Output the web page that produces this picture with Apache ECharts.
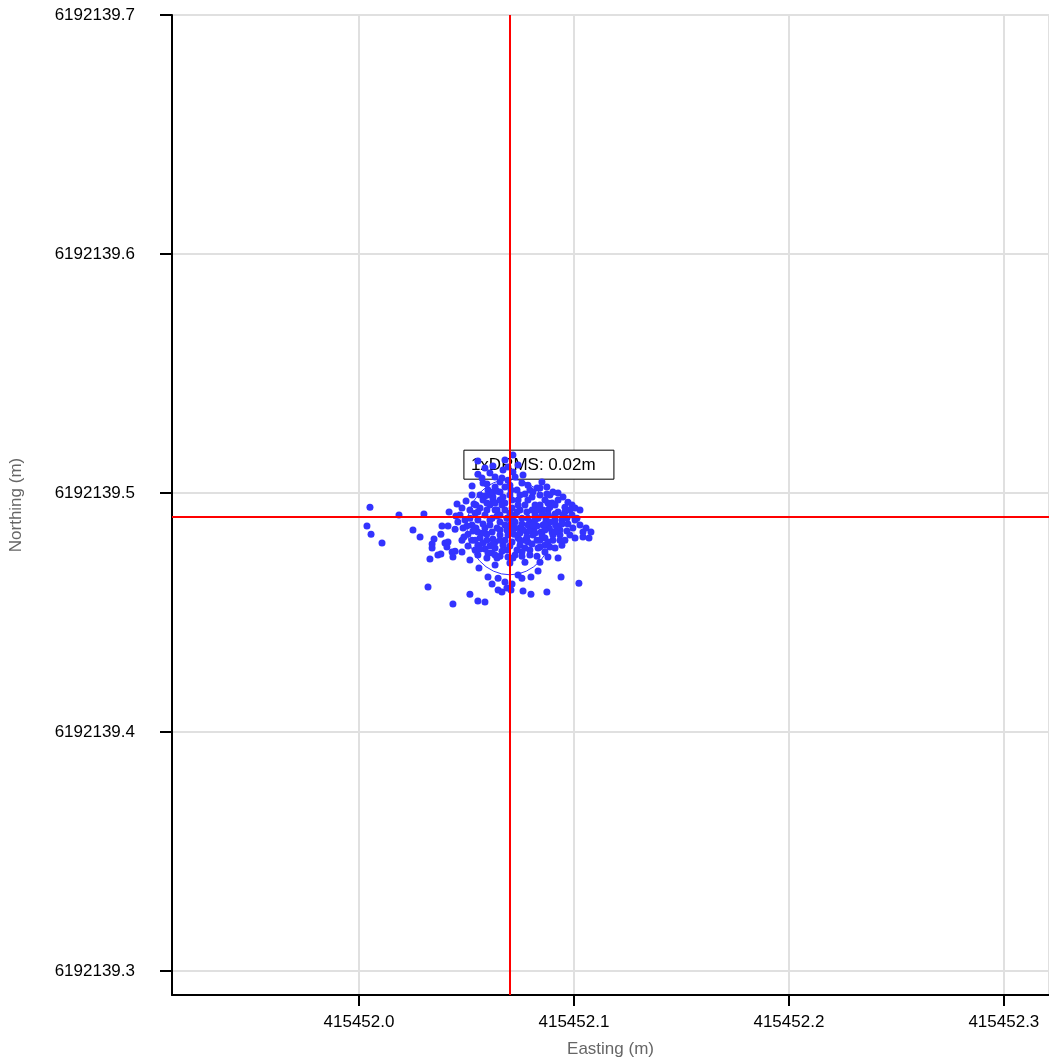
<!DOCTYPE html>
<html>
<head>
<meta charset="utf-8">
<title>DRMS scatter</title>
<script src="https://cdn.jsdelivr.net/npm/echarts@6/dist/echarts.min.js"></script>
<style>
  html, body { margin: 0; padding: 0; background: #fff; }
  #main { width: 1049px; height: 1064px; }
</style>
</head>
<body>
<div id="main"></div>
<script>
// base of the local coordinates, fixes are stored as offsets in millimetres
const EAST0 = 415452.0
const NORTH0 = 6192139.0

// axis extents (m)
const eastRange = [415451.913, 415452.321]
const northRange = [6192139.29, 6192139.7]

// mean position and 1xDRMS radius (m)
const meanPos = [415452.0702, 6192139.4858]
const drms = 0.02
const drmsLabel = '1xDRMS: 0.02m'

// GNSS fixes: [easting offset mm, northing offset mm]
const fixesMm = [
  [5.1, 494.1], [3.7, 486.2], [5.6, 482.8], [10.7, 479.1], [18.6, 490.8], [25.1, 484.5], [30.2, 491.2], [28.4, 481.6], [34.9, 480.8], [34.0, 478.7],
  [34.0, 477.0], [38.1, 482.8], [40.0, 479.1], [41.4, 479.5], [40.9, 477.4], [43.3, 475.3], [44.7, 475.7], [43.7, 473.2], [36.7, 474.1], [38.1, 474.5],
  [33.0, 472.4], [47.9, 475.3], [32.1, 460.7], [51.6, 457.7], [43.7, 453.6], [55.3, 454.8], [58.6, 454.4], [55.8, 468.6], [60.0, 464.9], [61.9, 461.9],
  [64.7, 464.4], [64.7, 459.4], [66.5, 458.6], [68.8, 460.3], [70.7, 459.4], [71.2, 461.9], [67.9, 462.8], [74.0, 465.7], [75.8, 464.4], [76.3, 459.0],
  [80.0, 457.7], [80.0, 464.9], [83.3, 467.4], [87.4, 458.6], [94.0, 464.9], [102.3, 462.3], [92.6, 472.8], [87.9, 473.2], [82.8, 473.6], [100.5, 481.2],
  [104.2, 481.6], [107.0, 481.2], [107.9, 483.7], [71.6, 515.9], [67.9, 513.8], [69.3, 510.9], [58.6, 510.5], [60.9, 508.4], [55.3, 507.9], [55.3, 513.4],
  [52.6, 502.9], [49.8, 496.7], [45.6, 495.4], [41.9, 492.1], [38.6, 486.2], [44.7, 484.9], [41.4, 486.2], [71.6, 508.8], [72.6, 506.7], [57.2, 506.3],
  [63.3, 506.7], [57.7, 504.2], [65.6, 504.6], [75.8, 504.2], [78.6, 503.3], [82.8, 502.1], [87.4, 502.5], [90.2, 500.4], [92.6, 500.0], [94.9, 498.3],
  [97.2, 496.2], [99.1, 495.0], [100.5, 493.7], [102.8, 492.9], [92.6, 497.1], [95.8, 494.1], [89.8, 495.8], [86.5, 497.1], [99.1, 490.8], [101.4, 489.5],
  [102.8, 486.6], [52.6, 499.2], [47.0, 490.8], [49.3, 488.7], [51.6, 492.9], [54.4, 495.0], [56.3, 499.2], [60.0, 501.3], [62.3, 498.3], [65.6, 500.4],
  [67.9, 502.5], [70.2, 499.2], [73.5, 501.3], [77.2, 499.6], [80.5, 498.3], [84.2, 499.2], [87.9, 492.9], [91.2, 491.2], [94.4, 488.7], [97.2, 487.0],
  [99.5, 485.4], [96.7, 484.1], [93.5, 482.4], [90.2, 480.3], [86.5, 478.2], [83.3, 477.0], [79.5, 476.2], [75.8, 475.3], [72.6, 474.1], [69.3, 473.2],
  [65.6, 473.6], [61.9, 474.9], [58.6, 476.6], [55.3, 478.2], [52.6, 480.3], [50.7, 482.8], [48.4, 485.4], [46.0, 487.9], [45.1, 490.4], [47.9, 493.7],
  [57.7, 497.1], [60.9, 495.0], [64.2, 492.9], [67.9, 495.8], [71.2, 493.7], [74.0, 497.1], [77.2, 495.0], [80.5, 492.9], [84.2, 495.0], [87.0, 488.7],
  [83.3, 489.5], [79.5, 487.9], [75.8, 489.5], [72.6, 487.9], [68.8, 489.5], [65.6, 487.9], [61.9, 489.5], [58.6, 490.8], [55.3, 488.7], [52.6, 486.6],
  [55.3, 483.7], [58.6, 485.4], [61.9, 483.7], [65.6, 482.4], [68.8, 484.5], [72.1, 482.8], [74.9, 485.4], [78.1, 483.7], [81.4, 485.4], [84.7, 483.7],
  [88.4, 485.4], [91.6, 486.6], [89.8, 483.7], [86.5, 481.2], [82.8, 480.3], [78.6, 479.5], [74.9, 478.2], [71.2, 479.5], [67.0, 478.2], [63.3, 479.5],
  [59.5, 480.3], [56.3, 481.2], [59.5, 472.8], [63.3, 469.9], [70.2, 470.7], [77.2, 471.1], [84.2, 471.1], [51.6, 472.0], [55.3, 474.1], [62.3, 497.1],
  [70.2, 503.3], [79.5, 501.3], [88.8, 499.2], [95.8, 492.1], [98.1, 482.4], [94.4, 478.2], [54.0, 491.6], [50.7, 477.8], [65.6, 490.8], [74.9, 492.9],
  [81.9, 490.8], [91.2, 488.7], [60.9, 486.6], [70.2, 486.6], [78.6, 486.6], [85.6, 486.6], [93.5, 484.5], [67.9, 480.3], [74.0, 481.2], [80.9, 482.4],
  [64.2, 485.4], [72.6, 490.8], [87.9, 490.8], [59.5, 492.9], [77.2, 480.3], [84.2, 480.3], [68.8, 476.2], [75.8, 473.6], [63.3, 477.0], [57.7, 479.1],
  [100.5, 488.7], [105.6, 485.4], [104.2, 483.7], [47.9, 480.3], [54.0, 476.2], [67.0, 509.6], [74.0, 511.7], [63.3, 502.5], [85.1, 504.6], [91.2, 495.0],
  [60.0, 499.2], [63.3, 495.8], [67.0, 498.3], [70.7, 501.3], [74.9, 499.2], [78.6, 497.1], [81.9, 495.0], [85.6, 492.9], [88.8, 494.1], [92.6, 492.1],
  [94.9, 490.8], [84.2, 502.1], [87.4, 499.6], [80.9, 500.4], [71.2, 497.1], [67.9, 492.9], [64.2, 490.4], [60.9, 488.7], [57.7, 487.0], [59.5, 482.8],
  [62.3, 480.8], [65.6, 484.5], [69.3, 482.4], [72.6, 485.4], [75.8, 487.0], [79.5, 484.5], [82.8, 486.2], [86.5, 484.5], [90.2, 482.4], [93.5, 480.3],
  [87.9, 479.5], [84.2, 477.4], [80.5, 478.7], [77.2, 477.0], [73.5, 476.2], [70.2, 477.8], [66.5, 475.7], [63.3, 474.1], [60.9, 477.8], [57.7, 483.3],
  [54.4, 485.4], [51.6, 489.5], [56.3, 493.7], [62.3, 500.4], [65.6, 497.1], [74.0, 495.0], [78.1, 492.1], [81.9, 488.7], [85.1, 490.8], [88.8, 487.9],
  [92.1, 485.4], [94.4, 487.0], [96.7, 489.5], [98.1, 492.9], [67.9, 486.6], [71.2, 484.5], [74.9, 483.3], [78.1, 481.6], [81.9, 483.3], [85.1, 482.4],
  [88.8, 477.4], [73.5, 492.1], [70.2, 491.6], [66.5, 495.0], [63.3, 492.9], [59.5, 495.8], [55.3, 492.1], [53.0, 484.1], [56.3, 476.6], [60.0, 474.9],
  [64.2, 472.8], [71.6, 472.8], [79.5, 474.1], [86.5, 475.3], [91.2, 477.0], [95.8, 480.3], [74.9, 480.3], [78.6, 489.5], [83.3, 492.9], [87.9, 495.8],
  [71.6, 488.7], [65.6, 480.3], [69.3, 489.5], [80.9, 486.6], [86.5, 487.0], [91.2, 483.7], [76.3, 484.5], [62.3, 478.7], [54.0, 480.3],
  [62.3, 511.3], [66.5, 506.3], [59.5, 503.8], [69.3, 505.4], [76.3, 507.5], [64.2, 500.8], [58.6, 498.8], [53.5, 495.4], [50.2, 486.2], [48.8, 481.6]
]

const FONT = 'Liberation Sans, Arial, sans-serif'

let points = fixesMm.map(p => [EAST0 + p[0] / 1000, NORTH0 + p[1] / 1000])

let myChart = echarts.init(document.getElementById('main'))

let option = {
  animation: false,
  textStyle: { fontFamily: FONT },
  grid: { left: 172, right: 0, top: 15, bottom: 69, containLabel: false },
  xAxis: {
    type: 'value',
    min: eastRange[0],
    max: eastRange[1],
    name: 'Easting (m)',
    nameLocation: 'middle',
    nameGap: 46,
    nameTextStyle: { color: '#666', fontSize: 17, fontFamily: FONT },
    axisLine: { onZero: false, lineStyle: { color: '#000', width: 2 } },
    axisTick: { show: true, length: 11, lineStyle: { color: '#000', width: 2 } },
    axisLabel: {
      color: '#000', fontSize: 17, margin: 19,
      showMinLabel: false, showMaxLabel: false,
      formatter: v => v.toFixed(1)
    },
    splitLine: { show: true, lineStyle: { color: '#e0e0e0', width: 2 } }
  },
  yAxis: {
    type: 'value',
    min: northRange[0],
    max: northRange[1],
    name: 'Northing (m)',
    nameLocation: 'middle',
    nameGap: 147,
    nameTextStyle: { color: '#666', fontSize: 17, fontFamily: FONT },
    axisLine: { onZero: false, lineStyle: { color: '#000', width: 2 } },
    axisTick: { show: true, length: 12, lineStyle: { color: '#000', width: 2 } },
    axisLabel: {
      color: '#000', fontSize: 17, margin: 37,
      showMinLabel: false,
      formatter: v => v.toFixed(1)
    },
    splitLine: { show: true, lineStyle: { color: '#e0e0e0', width: 2 } }
  },
  series: [
    {
      // red cross through the mean position
      type: 'line',
      data: [],
      z: 1,
      silent: true,
      markLine: {
        symbol: 'none',
        silent: true,
        label: { show: false },
        lineStyle: { color: '#ff0000', width: 2, type: 'solid' },
        data: [{ xAxis: meanPos[0] }, { yAxis: meanPos[1] }]
      }
    },
    {
      // DRMS circle and its label box
      type: 'custom',
      z: 2,
      silent: true,
      clip: false,
      data: [meanPos],
      renderItem: function (params, api) {
        let c = api.coord([api.value(0), api.value(1)])
        let rx = api.size([drms, 0])[0]
        let ry = api.size([0, drms])[1]
        let d = 'M' + (c[0] - rx) + ' ' + c[1] +
          ' A' + rx + ' ' + ry + ' 0 1 0 ' + (c[0] + rx) + ' ' + c[1] +
          ' A' + rx + ' ' + ry + ' 0 1 0 ' + (c[0] - rx) + ' ' + c[1] + ' Z'
        let boxX = c[0] - rx - 3
        let boxY = c[1] - ry - 29
        return {
          type: 'group',
          children: [
            {
              type: 'path',
              shape: { pathData: d },
              style: { fill: 'none', stroke: '#3333ff', lineWidth: 1 }
            },
            {
              type: 'rect',
              shape: { x: boxX, y: boxY, width: 150, height: 29 },
              style: { fill: '#fff', stroke: '#000', lineWidth: 1 }
            },
            {
              type: 'text',
              x: boxX + 7,
              y: boxY + 15,
              style: {
                text: drmsLabel,
                fill: '#000',
                font: '17px ' + FONT,
                verticalAlign: 'middle',
                align: 'left'
              }
            }
          ]
        }
      }
    },
    {
      name: 'fixes',
      type: 'scatter',
      z: 3,
      symbolSize: 7,
      itemStyle: { color: '#3333ff', opacity: 1 },
      data: points
    }
  ]
}

myChart.setOption(option)
</script>
</body>
</html>
